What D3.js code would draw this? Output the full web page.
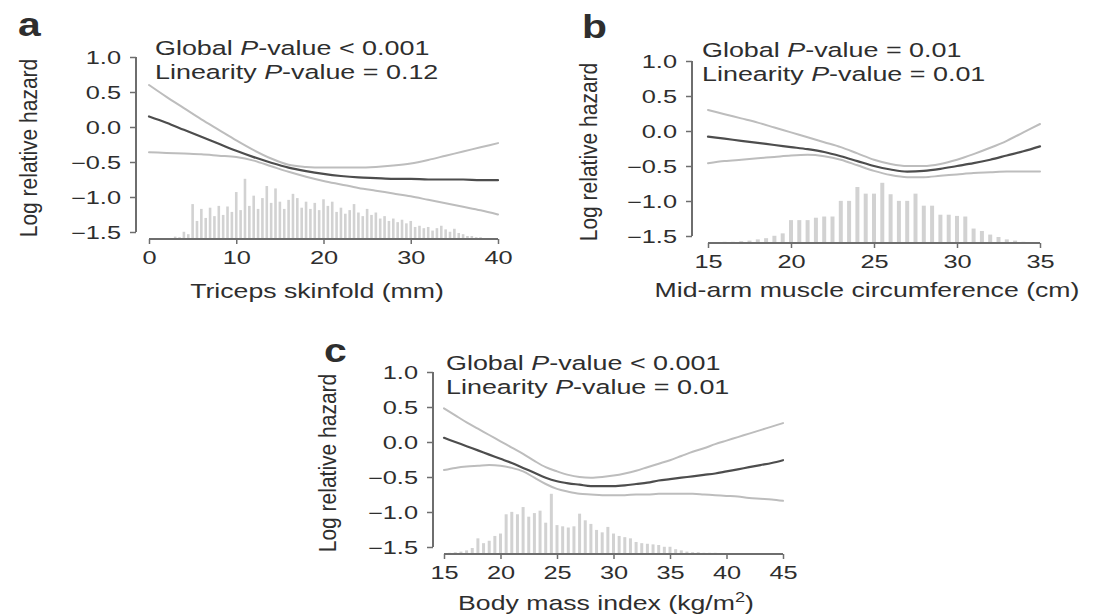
<!DOCTYPE html>
<html>
<head>
<meta charset="utf-8">
<script src="https://cdn.jsdelivr.net/npm/d3@7"></script>
<style>
  body { margin: 0; background: #fff; }
  svg { display: block; }
  text { font-family: "Liberation Sans", Arial, Helvetica, sans-serif; fill: #2e2e2e; }
</style>
</head>
<body>
<svg id="fig" width="1109" height="615"></svg>
<script>
// ---- shared axis values ----
const hazardTicks = [-1.5, -1.0, -0.5, 0.0, 0.5, 1.0];
const histFloor = -1.6;          // spikes rise from this log-hazard level
const histPeak = 100;            // count that reaches the tallest spike

// ---- panel a: triceps skinfold (mm) ----
const tsfTicks = [0, 10, 20, 30, 40];
const tsfGrid = [0, 2, 4, 6, 8, 10, 12, 14, 16, 18, 20, 22, 24, 26, 28, 30, 32, 34, 36, 38, 40];
const tsfFit = [0.15, 0.06, -0.04, -0.14, -0.24, -0.34, -0.43, -0.51, -0.58, -0.63, -0.67, -0.70, -0.72, -0.73, -0.74, -0.74, -0.75, -0.75, -0.75, -0.76, -0.76];
const tsfUpper = [0.60, 0.43, 0.27, 0.11, -0.04, -0.19, -0.33, -0.45, -0.54, -0.57, -0.58, -0.58, -0.58, -0.57, -0.55, -0.52, -0.47, -0.41, -0.35, -0.29, -0.23];
const tsfLower = [-0.36, -0.37, -0.38, -0.39, -0.41, -0.43, -0.48, -0.56, -0.64, -0.71, -0.77, -0.82, -0.87, -0.91, -0.95, -0.99, -1.04, -1.09, -1.14, -1.19, -1.25];
const tsfHistX = [3, 3.5, 4, 4.5, 5, 5.5, 6, 6.5, 7, 7.5, 8, 8.5, 9, 9.5, 10, 10.5, 11, 11.5, 12, 12.5, 13, 13.5, 14, 14.5, 15, 15.5, 16, 16.5, 17, 17.5, 18, 18.5, 19, 19.5, 20, 20.5, 21, 21.5, 22, 22.5, 23, 23.5, 24, 24.5, 25, 25.5, 26, 26.5, 27, 27.5, 28, 28.5, 29, 29.5, 30, 30.5, 31, 31.5, 32, 32.5, 33, 33.5, 34, 34.5, 35, 35.5, 36, 36.5, 37, 37.5, 38];
const tsfHistN = [4, 3, 12, 8, 58, 30, 50, 35, 52, 38, 55, 40, 54, 45, 78, 48, 100, 55, 72, 50, 68, 88, 60, 84, 62, 50, 65, 75, 68, 52, 62, 50, 60, 48, 66, 55, 62, 45, 52, 42, 48, 58, 44, 38, 50, 40, 44, 34, 38, 30, 34, 28, 32, 26, 30, 20, 22, 18, 20, 14, 18, 22, 16, 12, 17, 10, 8, 5, 5, 3, 3];

// ---- panel b: mid-arm muscle circumference (cm) ----
const mamcTicks = [15, 20, 25, 30, 35];
const mamcGrid = [15, 16, 17, 18, 19, 20, 21, 22, 23, 24, 25, 26, 27, 28, 29, 30, 31, 32, 33, 34, 35];
const mamcFit = [-0.08, -0.11, -0.14, -0.17, -0.20, -0.23, -0.26, -0.30, -0.36, -0.43, -0.50, -0.55, -0.58, -0.57, -0.54, -0.50, -0.46, -0.41, -0.35, -0.29, -0.22];
const mamcUpper = [0.30, 0.24, 0.18, 0.12, 0.05, -0.02, -0.09, -0.16, -0.23, -0.32, -0.41, -0.47, -0.50, -0.50, -0.47, -0.41, -0.33, -0.24, -0.14, -0.02, 0.10];
const mamcLower = [-0.46, -0.43, -0.41, -0.39, -0.37, -0.35, -0.34, -0.36, -0.41, -0.49, -0.57, -0.63, -0.66, -0.66, -0.64, -0.62, -0.60, -0.59, -0.58, -0.58, -0.58];
const mamcHistX = [16, 16.5, 17, 17.5, 18, 18.5, 19, 19.5, 20, 20.5, 21, 21.5, 22, 22.5, 23, 23.5, 24, 24.5, 25, 25.5, 26, 26.5, 27, 27.5, 28, 28.5, 29, 29.5, 30, 30.5, 31, 31.5, 32, 32.5, 33, 33.5, 34];
const mamcHistN = [2, 2, 3, 4, 6, 8, 12, 16, 38, 38, 38, 42, 44, 44, 70, 70, 93, 82, 82, 100, 81, 70, 70, 82, 62, 62, 47, 47, 45, 44, 24, 20, 14, 10, 6, 4, 2];

// ---- panel c: body mass index (kg/m2) ----
const bmiTicks = [15, 20, 25, 30, 35, 40, 45];
const bmiGrid = [15, 16, 17, 18, 19, 20, 21, 22, 23, 24, 25, 26, 27, 28, 29, 30, 31, 32, 33, 34, 35, 36, 37, 38, 39, 40, 41, 42, 43, 44, 45];
const bmiFit = [0.06, 0.00, -0.06, -0.12, -0.18, -0.24, -0.30, -0.37, -0.44, -0.51, -0.56, -0.59, -0.61, -0.63, -0.63, -0.63, -0.62, -0.60, -0.58, -0.55, -0.53, -0.51, -0.49, -0.47, -0.45, -0.42, -0.39, -0.36, -0.33, -0.30, -0.26];
const bmiUpper = [0.48, 0.38, 0.28, 0.19, 0.10, 0.01, -0.08, -0.17, -0.27, -0.36, -0.42, -0.47, -0.50, -0.51, -0.50, -0.48, -0.45, -0.41, -0.36, -0.31, -0.26, -0.20, -0.14, -0.09, -0.03, 0.02, 0.07, 0.12, 0.17, 0.22, 0.27];
const bmiLower = [-0.40, -0.37, -0.35, -0.34, -0.33, -0.34, -0.37, -0.42, -0.51, -0.60, -0.67, -0.71, -0.74, -0.75, -0.76, -0.76, -0.76, -0.75, -0.75, -0.74, -0.74, -0.74, -0.74, -0.75, -0.76, -0.77, -0.78, -0.80, -0.81, -0.82, -0.84];
const bmiHistX = [15.5, 16, 16.5, 17, 17.5, 18, 18.5, 19, 19.5, 20, 20.5, 21, 21.5, 22, 22.5, 23, 23.5, 24, 24.5, 25, 25.5, 26, 26.5, 27, 27.5, 28, 28.5, 29, 29.5, 30, 30.5, 31, 31.5, 32, 32.5, 33, 33.5, 34, 34.5, 35, 35.5, 36, 36.5, 37, 37.5, 38, 38.5, 39, 39.5, 40];
const bmiHistN = [2, 3, 4, 6, 10, 26, 18, 22, 30, 34, 66, 70, 66, 78, 62, 68, 72, 52, 100, 48, 46, 44, 46, 67, 56, 50, 40, 36, 45, 34, 30, 28, 26, 20, 18, 17, 16, 15, 12, 12, 8, 6, 4, 3, 3, 2, 2, 2, 1, 1];

// ---- panel text ----
const panelLetters = ["a", "b", "c"];
const xTitles = ["Triceps skinfold (mm)", "Mid-arm muscle circumference (cm)", "Body mass index (kg/m"];
const yTitle = "Log relative hazard";
const globalP = ["< 0.001", "= 0.01", "< 0.001"];
const linearityP = ["= 0.12", "= 0.01", "= 0.01"];

// ---- layout (pixel placement of each panel) ----
const panels = [
  { grid: tsfGrid, fit: tsfFit, upper: tsfUpper, lower: tsfLower, histX: tsfHistX, histN: tsfHistN,
    ticks: tsfTicks, domain: [0, 40], xRange: [149, 498], axisX: 136, yZero: 127,
    barW: 2.6, letter: [18, 36], ann: [155, 55], titleX: 317, titleY: 298, yTitleX: 37, sup: false },
  { grid: mamcGrid, fit: mamcFit, upper: mamcUpper, lower: mamcLower, histX: mamcHistX, histN: mamcHistN,
    ticks: mamcTicks, domain: [15, 35], xRange: [708, 1040], axisX: 692, yZero: 131,
    barW: 4, letter: [582, 38], ann: [702, 57], titleX: 867, titleY: 297, yTitleX: 597, sup: false },
  { grid: bmiGrid, fit: bmiFit, upper: bmiUpper, lower: bmiLower, histX: bmiHistX, histN: bmiHistN,
    ticks: bmiTicks, domain: [15, 45], xRange: [444, 783], axisX: 433, yZero: 442,
    barW: 3, letter: [324, 362], ann: [446, 370], titleX: 606, titleY: 610, yTitleX: 336, sup: true }
];

const svg = d3.select("#fig");
svg.append("rect").attr("width", 1109).attr("height", 615).attr("fill", "#fff");

const AXIS_COL = "#6e6e6e";
const FIT_COL = "#4d4d4d";
const CI_COL = "#bdbdbd";
const SPIKE_COL = "#d2d2d2";
const TICK_SX = 1.45;            // horizontal widening of tick labels

// horizontally widened text placed at (x, y)
function wideText(parent, x, y, size, sx, anchor) {
  return parent.append("text")
    .attr("transform", `translate(${x},${y}) scale(${sx},1)`)
    .attr("font-size", size)
    .attr("text-anchor", anchor || "start");
}

panels.forEach((p, i) => {
  const g = svg.append("g");
  const x = d3.scaleLinear().domain(p.domain).range(p.xRange);
  const y = d3.scaleLinear().domain([histFloor, 1.0]).range([p.yZero - histFloor * 70, p.yZero - 70]);
  const spikeTop = d3.scaleLinear().domain([0, histPeak]).range([y(histFloor), y(-0.74)]);

  // histogram spikes of the covariate distribution
  g.append("g").selectAll("line")
    .data(p.histX.map((v, k) => [v, p.histN[k]]))
    .join("line")
    .attr("x1", d => x(d[0])).attr("x2", d => x(d[0]))
    .attr("y1", y(histFloor)).attr("y2", d => spikeTop(d[1]))
    .attr("stroke", SPIKE_COL).attr("stroke-width", p.barW);

  // y axis
  const yAxis = g.append("g").attr("transform", `translate(${p.axisX},0)`)
    .call(d3.axisLeft(y).tickValues(hazardTicks).tickSize(6).tickFormat(d3.format(".1f")));
  yAxis.select(".domain").attr("d", `M0,${y(1.0)}V${y(-1.5)}`).attr("stroke", AXIS_COL).attr("stroke-width", 2);
  yAxis.selectAll(".tick line").attr("stroke", AXIS_COL).attr("stroke-width", 1.5);
  yAxis.selectAll(".tick text")
    .attr("font-size", 17.5).attr("font-family", null).attr("fill", "#333")
    .attr("x", -15 / TICK_SX).attr("dy", "0.36em")
    .attr("transform", `scale(${TICK_SX},1)`);

  // x axis along the spike baseline
  const xAxis = g.append("g").attr("transform", `translate(0,${y(histFloor)})`)
    .call(d3.axisBottom(x).tickValues(p.ticks).tickSize(5).tickFormat(d3.format("d")));
  xAxis.select(".domain").attr("d", `M${x(p.domain[0])},0H${x(p.domain[1])}`).attr("stroke", AXIS_COL).attr("stroke-width", 2.2);
  xAxis.selectAll(".tick line").attr("stroke", AXIS_COL).attr("stroke-width", 1.5);
  xAxis.selectAll(".tick text")
    .attr("font-size", 17.5).attr("font-family", null).attr("fill", "#333")
    .attr("x", 0).attr("y", 19).attr("dy", "0.36em")
    .attr("transform", `scale(${TICK_SX},1)`);

  // fitted curve and confidence limits
  const line = d3.line().x(d => x(d[0])).y(d => y(d[1])).curve(d3.curveMonotoneX);
  [[p.upper, CI_COL, 2], [p.lower, CI_COL, 2], [p.fit, FIT_COL, 2.2]].forEach(([vals, col, w]) => {
    g.append("path")
      .attr("d", line(p.grid.map((v, k) => [v, vals[k]])))
      .attr("fill", "none").attr("stroke", col).attr("stroke-width", w)
      .attr("stroke-linecap", "round");
  });

  // panel letter
  wideText(g, p.letter[0], p.letter[1], 34, 1.2).attr("font-weight", "bold").attr("fill", "#1a1a1a").text(panelLetters[i]);

  // P-value annotations
  const t1 = wideText(g, p.ann[0], p.ann[1], 19.5, 1.38);
  t1.append("tspan").text("Global ");
  t1.append("tspan").attr("font-style", "italic").text("P");
  t1.append("tspan").text("-value " + globalP[i]);
  const t2 = wideText(g, p.ann[0], p.ann[1] + 24, 19.5, 1.38);
  t2.append("tspan").text("Linearity ");
  t2.append("tspan").attr("font-style", "italic").text("P");
  t2.append("tspan").text("-value " + linearityP[i]);

  // axis titles
  const xt = wideText(g, p.titleX, p.titleY, 20.5, 1.3, "middle").text(xTitles[i]);
  if (p.sup) {
    xt.append("tspan").attr("dy", -8).attr("font-size", 14).text("2");
    xt.append("tspan").attr("dy", 8).text(")");
  }
  g.append("text")
    .attr("transform", `translate(${p.yTitleX},${(y(1.0) + y(histFloor)) / 2}) scale(1.12,1) rotate(-90)`)
    .attr("text-anchor", "middle").attr("font-size", 21)
    .text(yTitle);
});
</script>
</body>
</html>
